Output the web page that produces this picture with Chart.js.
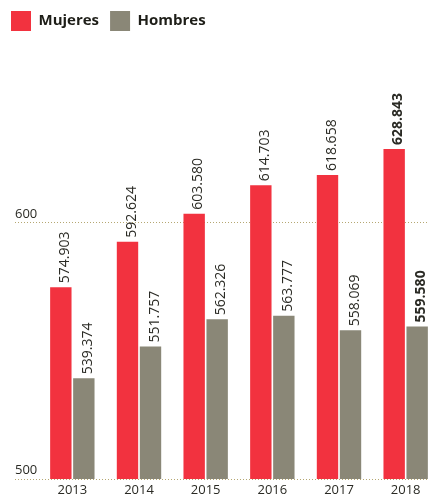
<!DOCTYPE html>
<html>
<head>
<meta charset="utf-8">
<script src="https://cdn.jsdelivr.net/npm/chart.js@4"></script>
<style>
  html, body { margin: 0; padding: 0; background: #fff; overflow: hidden; }
  #wrap { width: 440px; height: 498px; position: relative; }
</style>
</head>
<body>
<div id="wrap"><canvas id="chart"></canvas></div>
<script>
// datos
const years = ['2013', '2014', '2015', '2016', '2017', '2018'];
const mujeres = [574.903, 592.624, 603.580, 614.703, 618.658, 628.843];
const hombres = [539.374, 551.757, 562.326, 563.777, 558.069, 559.580];
const mujeresLabels = ['574.903', '592.624', '603.580', '614.703', '618.658', '628.843'];
const hombresLabels = ['539.374', '551.757', '562.326', '563.777', '558.069', '559.580'];
const yTicks = [500, 600];

const FONT = '"Open Sans", "DejaVu Sans", sans-serif';
const TEXT = '#2a2a24';
const GRID = '#b5a772';

// etiquetas verticales encima de cada barra
const valueLabels = {
  id: 'valueLabels',
  afterDatasetsDraw(chart) {
    const ctx = chart.ctx;
    const texts = [mujeresLabels, hombresLabels];
    chart.data.datasets.forEach((ds, i) => {
      const meta = chart.getDatasetMeta(i);
      meta.data.forEach((bar, j) => {
        ctx.save();
        ctx.translate(bar.x + 8, bar.y - 4);
        ctx.rotate(-Math.PI / 2);
        ctx.font = (j === years.length - 1 ? '700 ' : '400 ') + '14px ' + FONT;
        ctx.fillStyle = TEXT;
        ctx.textAlign = 'left';
        ctx.textBaseline = 'alphabetic';
        ctx.fillText(texts[i][j], 0, 0);
        ctx.restore();
      });
    });
  }
};

const ctx = document.getElementById('chart').getContext('2d');
const chart = new Chart(ctx, {
  type: 'bar',
  data: {
    labels: years,
    datasets: [
      { label: 'Mujeres', data: mujeres, backgroundColor: '#f2323f', borderWidth: 0 },
      { label: 'Hombres', data: hombres, backgroundColor: '#8a8777', borderWidth: 0 }
    ]
  },
  options: {
    responsive: true,
    maintainAspectRatio: false,
    animation: false,
    categoryPercentage: 0.69,
    barPercentage: 0.93,
    layout: { padding: { left: 0, right: 1, top: 0, bottom: 0 } },
    plugins: {
      tooltip: { enabled: false },
      legend: {
        position: 'top',
        align: 'start',
        labels: {
          boxWidth: 20,
          boxHeight: 20,
          padding: 11,
          color: '#1e1e18',
          font: { family: FONT, size: 15, weight: '700' }
        }
      }
    },
    scales: {
      x: {
        grid: { display: false, drawTicks: false },
        border: { display: false },
        ticks: { color: TEXT, font: { family: FONT, size: 13 }, padding: 3 },
        afterFit(axis) { axis.height = 19; }
      },
      y: {
        min: 500,
        max: 671,
        z: 1,
        afterBuildTicks(axis) { axis.ticks = yTicks.map(v => ({ value: v })); },
        afterFit(axis) { axis.width = 39; },
        border: { display: false, dash: [1, 2] },
        grid: {
          color: GRID,
          tickBorderDash: [1, 2],
          tickColor: GRID,
          tickLength: 24,
          drawTicks: true
        },
        ticks: {
          mirror: true,
          padding: -24,
          labelOffset: -9,
          color: TEXT,
          font: { family: FONT, size: 13 }
        }
      }
    }
  },
  plugins: [valueLabels]
});
</script>
</body>
</html>
